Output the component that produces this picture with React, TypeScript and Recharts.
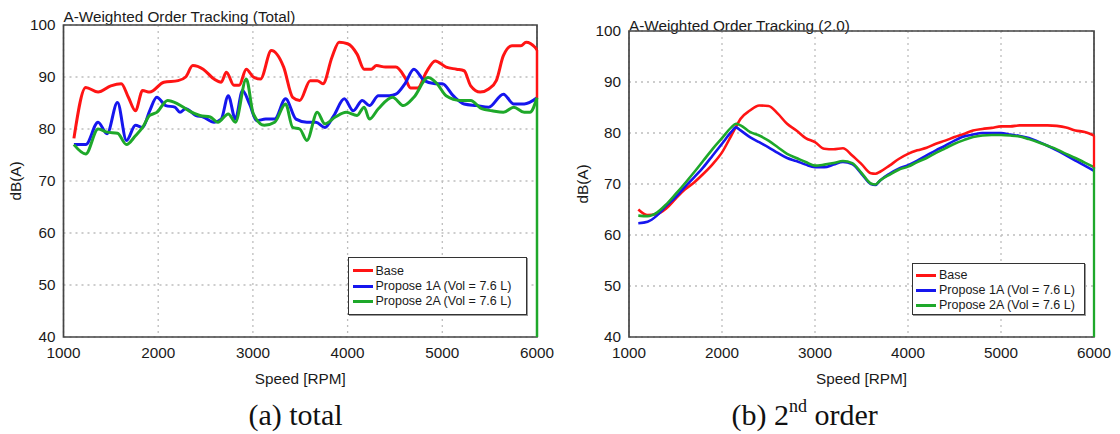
import { CartesianGrid, Legend, Line, LineChart, ReferenceArea, XAxis, YAxis } from 'recharts';

const rpmTicks = [1000, 2000, 3000, 4000, 5000, 6000];
const dbTicks = [40, 50, 60, 70, 80, 90, 100];

const seriesNames = ['Base', 'Propose 1A (Vol = 7.6 L)', 'Propose 2A (Vol = 7.6 L)'];
const seriesColors = ['#ff1414', '#1616ee', '#1ea82a'];

// (a) total: [rpm, dB(A)]
const totalBase = [
  [1110, 78.2], [1235, 88], [1365, 87.1], [1500, 88.3], [1610, 88.7], [1685, 86.1], [1760, 83.5],
  [1835, 87.4], [1910, 87.1], [2060, 89], [2210, 89.3], [2290, 90], [2365, 92.2], [2475, 91.5],
  [2590, 89.6], [2665, 89], [2720, 90.9], [2800, 88.4], [2855, 88.4], [2930, 91.5], [3005, 90],
  [3080, 89.6], [3195, 95.1], [3325, 91.9], [3420, 86.1], [3495, 85.5], [3605, 89.3], [3680, 89.3],
  [3740, 88.7], [3835, 93.8], [3910, 96.7], [4000, 96.4], [4100, 94.4], [4175, 91.5], [4250, 91.5],
  [4305, 92.2], [4400, 91.9], [4510, 91.9], [4605, 89.9], [4665, 87.9], [4740, 87.9], [4830, 90.9],
  [4925, 93.1], [5040, 91.9], [5150, 91.5], [5230, 91.2], [5300, 88.3], [5400, 87.1], [5490, 87.7],
  [5570, 89.3], [5645, 94.1], [5735, 96], [5830, 96], [5885, 96.7], [5980, 95.7], [6000, 95.2],
];
const totalP1 = [
  [1110, 77], [1235, 77], [1365, 81.3], [1460, 79.1], [1570, 85.1], [1665, 77.8], [1760, 80.7],
  [1835, 80.3], [1910, 83.5], [1985, 86.1], [2080, 84.5], [2175, 84.2], [2230, 83.2], [2290, 83.9],
  [2400, 82.6], [2475, 82.3], [2590, 81.3], [2665, 81.9], [2740, 86.4], [2815, 81.9], [2890, 87.4],
  [2965, 84.8], [3040, 81.6], [3135, 81.9], [3230, 81.9], [3345, 85.8], [3455, 81.9], [3570, 81.3],
  [3665, 81.3], [3760, 80.3], [3855, 82.6], [3965, 85.8], [4060, 83.5], [4155, 85.5], [4230, 84.5],
  [4325, 86.4], [4440, 86.4], [4510, 86.7], [4605, 88.7], [4700, 91.5], [4810, 89.3], [4925, 88.7],
  [5000, 88.7], [5115, 86.4], [5230, 84.8], [5360, 84.5], [5490, 84.2], [5645, 86.7], [5755, 84.8],
  [5865, 84.8], [6000, 86],
];
const totalP2 = [
  [1110, 77], [1235, 75.2], [1365, 80], [1460, 79.4], [1570, 79.2], [1665, 77], [1760, 78.7],
  [1835, 80.3], [1910, 82.6], [1985, 83.2], [2100, 85.5], [2210, 84.8], [2325, 83.5], [2440, 82.6],
  [2550, 82.3], [2630, 81.3], [2740, 82.9], [2815, 81.3], [2930, 89.6], [3005, 82.9], [3120, 80.7],
  [3230, 81.3], [3345, 84.8], [3420, 80.3], [3495, 80], [3570, 77.8], [3680, 83.2], [3760, 81],
  [3870, 82.3], [3985, 83.2], [4100, 82.6], [4175, 84.2], [4230, 81.9], [4325, 83.9], [4475, 86.1],
  [4590, 84.5], [4700, 86.1], [4850, 89.9], [4945, 88.7], [5040, 86.4], [5190, 85.5], [5300, 85.5],
  [5415, 83.9], [5525, 83.5], [5645, 83.2], [5755, 84.2], [5865, 83.2], [5925, 83.2], [6000, 86],
];
// vertical end-of-sweep drops at 6000 rpm
const totalBaseDrop = [[6000, 95.2], [6000, 86]];
const totalP2Drop = [[6000, 86], [6000, 40]];

// (b) 2nd order
const orderRpm = [
  1100, 1200, 1300, 1400, 1500, 1600, 1700, 1800, 1900, 2000, 2100, 2150, 2200, 2300, 2400, 2500,
  2600, 2700, 2800, 2900, 3000, 3100, 3200, 3300, 3400, 3500, 3600, 3650, 3700, 3800, 3900, 4000,
  4100, 4200, 4300, 4400, 4500, 4600, 4700, 4800, 4900, 5000, 5100, 5200, 5300, 5400, 5500, 5600,
  5700, 5800, 5900, 6000,
];
const orderBase = [
  65, 63.9, 64.1, 65.2, 67.1, 68.9, 70.3, 72, 73.9, 76.2, 79.5, 81.2, 82.8, 84.4, 85.4, 85.3,
  83.8, 81.8, 80.5, 79, 78.2, 76.9, 76.8, 77, 75.6, 73.9, 72.1, 72, 72.4, 73.6, 74.9, 75.9,
  76.6, 77.1, 77.9, 78.5, 79.2, 79.8, 80.5, 80.8, 81, 81.3, 81.3, 81.5, 81.5, 81.5, 81.5, 81.4,
  81.1, 80.5, 80.2, 79.5,
];
const orderP1 = [
  62.3, 62.6, 63.8, 65.7, 67.4, 69.4, 71.3, 73.3, 75.6, 77.9, 80.2, 81.1, 80.5, 79.2, 78.2, 77.2,
  76.1, 75.1, 74.5, 73.8, 73.3, 73.3, 73.8, 74.3, 73.9, 72, 70, 69.8, 70.7, 72, 73, 73.7,
  74.6, 75.6, 76.6, 77.5, 78.5, 79.3, 79.7, 80, 80, 80, 79.7, 79.4, 79, 78.3, 77.5, 76.6,
  75.6, 74.6, 73.6, 72.6,
];
const orderP2 = [
  63.8, 63.7, 64.4, 66, 68, 70.1, 72.3, 74.6, 76.9, 79, 81.1, 81.8, 81.5, 80.2, 79.5, 78.5,
  77.2, 75.9, 75.1, 74.3, 73.6, 73.8, 74.1, 74.5, 74.1, 72.2, 70.1, 69.9, 70.7, 71.8, 72.8, 73.4,
  74.3, 75.1, 76.1, 77, 77.9, 78.6, 79.2, 79.5, 79.6, 79.6, 79.5, 79.3, 78.8, 78.2, 77.5, 76.8,
  75.9, 75.1, 74.2, 73.3,
];
const orderBaseDrop = [[6000, 79.5], [6000, 73]];
const orderP2Drop = [[6000, 73.3], [6000, 40]];

const toPoints = (pairs: number[][]) => pairs.map(([rpm, db]) => ({ rpm, db }));
const orderSeries = [orderBase, orderP1, orderP2].map((vals) => orderRpm.map((rpm, i) => ({ rpm, db: vals[i] })));
const totalSeries = [totalBase, totalP1, totalP2].map(toPoints);

const sans = "'Liberation Sans', Arial, sans-serif";
const serif = "'Liberation Serif', 'Times New Roman', serif";
const tickStyle = { fill: '#1a1a1a', fontSize: 15.3, fontFamily: sans };
const labelStyle = { fill: '#1a1a1a', fontSize: 15.3, fontFamily: sans, textAnchor: 'middle' as const };

function LegendBox({ padLeft, rowH, padTop }: { padLeft: number; rowH: number; padTop: number }) {
  return (
    <div
      style={{
        boxSizing: 'border-box', width: '100%', height: '100%', border: '1.6px solid #333',
        background: '#fff', paddingLeft: padLeft, paddingTop: padTop, fontFamily: sans, fontSize: 12.5, color: '#1a1a1a',
        boxShadow: '1px 1px 0 #999',
      }}
    >
      {seriesNames.map((name, i) => (
        <div key={name} style={{ display: 'flex', alignItems: 'center', height: rowH, whiteSpace: 'nowrap' }}>
          <span style={{ width: 20, height: 0, borderTop: `3px solid ${seriesColors[i]}`, marginRight: 3 }} />
          <span>{name}</span>
        </div>
      ))}
    </div>
  );
}

function TotalChart() {
  return (
    <div style={{ position: 'absolute', left: 0, top: 0, width: 560, height: 434 }}>
      <div style={{ position: 'absolute', left: 63.5, top: 9.3, fontFamily: sans, fontSize: 15.3, lineHeight: '15.3px', color: '#1a1a1a', whiteSpace: 'nowrap' }}>
        A-Weighted Order Tracking (Total)
      </div>
      <LineChart width={560} height={434} margin={{ top: 25, right: 23, bottom: 47, left: 4 }}>
        <CartesianGrid stroke="#bdbdbd" strokeDasharray="2 4" strokeWidth={1.3} />
        <XAxis
          dataKey="rpm" type="number" domain={[1000, 6000]} ticks={rpmTicks} allowDuplicatedCategory={false}
          tickLine={false} axisLine={false} tick={tickStyle} tickMargin={4} height={50} interval={0}
          label={{ value: 'Speed [RPM]', position: 'insideBottom', offset: 3.5, style: labelStyle }}
        />
        <YAxis
          type="number" domain={[40, 100]} ticks={dbTicks} tickLine={false} axisLine={false}
          tick={tickStyle} tickMargin={2} width={59.5} interval={0}
          label={{ value: 'dB(A)', angle: -90, position: 'insideLeft', offset: 12, style: labelStyle }}
        />
        <ReferenceArea x1={1000} x2={6000} y1={40} y2={100} fill="none" stroke="#444" strokeWidth={1.7} />
        {totalSeries.map((pts, i) => (
          <Line key={seriesNames[i]} data={pts} dataKey="db" name={seriesNames[i]} stroke={seriesColors[i]} strokeWidth={3}
            strokeLinejoin="round" dot={false} type="monotone" isAnimationActive={false} />
        ))}
        <Line data={toPoints(totalBaseDrop)} dataKey="db" legendType="none" stroke={seriesColors[0]} strokeWidth={2.5} dot={false} type="linear" isAnimationActive={false} />
        <Line data={toPoints(totalP2Drop)} dataKey="db" legendType="none" stroke={seriesColors[2]} strokeWidth={2.5} dot={false} type="linear" isAnimationActive={false} />
        <Legend
          layout="vertical" align="center" verticalAlign="middle"
          wrapperStyle={{ left: 348, top: 257, width: 179, height: 58 }}
          content={() => <LegendBox padLeft={3.5} padTop={5} rowH={15.4} />}
        />
      </LineChart>
      <div style={{ position: 'absolute', left: 195.5, top: 400, width: 200, textAlign: 'center', fontFamily: serif, fontSize: 30, lineHeight: '30px', color: '#111' }}>
        (a) total
      </div>
    </div>
  );
}

function OrderChart() {
  return (
    <div style={{ position: 'absolute', left: 560, top: 0, width: 560, height: 434 }}>
      <div style={{ position: 'absolute', left: 69, top: 17.5, fontFamily: sans, fontSize: 15.3, lineHeight: '15.3px', color: '#1a1a1a', whiteSpace: 'nowrap' }}>
        A-Weighted Order Tracking (2.0)
      </div>
      <LineChart width={560} height={434} margin={{ top: 31, right: 26, bottom: 47, left: 4 }}>
        <CartesianGrid stroke="#bdbdbd" strokeDasharray="2 4" strokeWidth={1.3} />
        <XAxis
          dataKey="rpm" type="number" domain={[1000, 6000]} ticks={rpmTicks} allowDuplicatedCategory={false}
          tickLine={false} axisLine={false} tick={tickStyle} tickMargin={4} height={50} interval={0}
          label={{ value: 'Speed [RPM]', position: 'insideBottom', offset: 3.5, style: labelStyle }}
        />
        <YAxis
          type="number" domain={[40, 100]} ticks={dbTicks} tickLine={false} axisLine={false}
          tick={tickStyle} tickMargin={2} width={65} interval={0}
          label={{ value: 'dB(A)', angle: -90, position: 'insideLeft', offset: 19, style: labelStyle }}
        />
        <ReferenceArea x1={1000} x2={6000} y1={40} y2={100} fill="none" stroke="#444" strokeWidth={1.7} />
        {orderSeries.map((pts, i) => (
          <Line key={seriesNames[i]} data={pts} dataKey="db" name={seriesNames[i]} stroke={seriesColors[i]} strokeWidth={2.6}
            strokeLinejoin="round" dot={false} type="monotone" isAnimationActive={false} />
        ))}
        <Line data={toPoints(orderBaseDrop)} dataKey="db" legendType="none" stroke={seriesColors[0]} strokeWidth={2.3} dot={false} type="linear" isAnimationActive={false} />
        <Line data={toPoints(orderP2Drop)} dataKey="db" legendType="none" stroke={seriesColors[2]} strokeWidth={2.3} dot={false} type="linear" isAnimationActive={false} />
        <Legend
          layout="vertical" align="center" verticalAlign="middle"
          wrapperStyle={{ left: 352, top: 263, width: 173, height: 52 }}
          content={() => <LegendBox padLeft={3} padTop={3.5} rowH={15} />}
        />
      </LineChart>
      <div style={{ position: 'absolute', left: 144.6, top: 400, width: 200, textAlign: 'center', fontFamily: serif, fontSize: 30, lineHeight: '30px', color: '#111', whiteSpace: 'nowrap' }}>
        (b) 2<sup style={{ fontSize: 18, lineHeight: 0, verticalAlign: 'baseline', position: 'relative', top: -13 }}>nd</sup> order
      </div>
    </div>
  );
}

export default function App() {
  return (
    <div style={{ position: 'absolute', left: 0, top: 0, width: 1120, height: 434, background: '#fff', overflow: 'hidden' }}>
      <TotalChart />
      <OrderChart />
    </div>
  );
}
